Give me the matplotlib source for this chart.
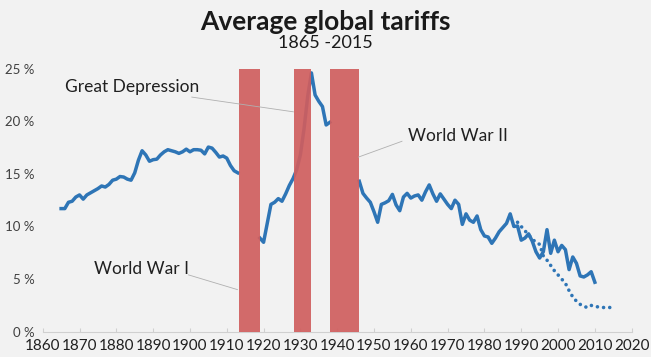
import matplotlib
matplotlib.use('Agg')
import matplotlib.pyplot as plt
import numpy as np

# yearly average tariff (%), gaps during the world wars
years = list(range(1865, 2011))
tariff = [
    11.7, 11.7, 12.3, 12.4, 12.8, 13.0, 12.6, 13.0, 13.2, 13.4,      # 1865-1874
    13.6, 13.85, 13.75, 14.0, 14.4, 14.5, 14.75, 14.7, 14.5, 14.4,   # 1875-1884
    15.1, 16.3, 17.2, 16.8, 16.2, 16.35, 16.4, 16.8, 17.1, 17.3,     # 1885-1894
    17.2, 17.1, 16.95, 17.1, 17.35, 17.1, 17.3, 17.3, 17.25, 16.9,   # 1895-1904
    17.55, 17.45, 17.05, 16.6, 16.7, 16.5, 15.8, 15.3, 15.1, None,   # 1905-1914
    None, None, None, None, 8.9, 8.5, 10.3, 12.1, 12.3, 12.65,       # 1915-1924
    12.4, 13.1, 13.9, 14.55, 15.4, 16.8, 19.3, 22.4, 24.6, 22.5,     # 1925-1934
    21.9, 21.4, 19.65, 19.9, None, None, None, None, None, None,     # 1935-1944
    None, 14.3, 13.15, 12.7, 12.3, 11.4, 10.4, 12.1, 12.25, 12.45,   # 1945-1954
    13.05, 12.05, 11.5, 12.8, 13.15, 12.7, 12.9, 13.0, 12.5, 13.3,   # 1955-1964
    13.95, 13.1, 12.4, 13.1, 12.6, 12.1, 11.7, 12.5, 12.1, 10.2,     # 1965-1974
    11.2, 10.6, 10.4, 11.0, 9.7, 9.1, 9.0, 8.4, 8.9, 9.5,            # 1975-1984
    9.9, 10.3, 11.2, 10.0, 10.05, 8.7, 8.9, 9.3, 8.6, 7.6,           # 1985-1994
    7.0, 7.6, 9.7, 7.45, 8.7, 7.6, 8.2, 7.8, 5.9, 7.1,               # 1995-2004
    6.5, 5.3, 5.2, 5.4, 5.7, 4.7,                                    # 2005-2010
]

# second (dotted) series
dot_years = list(range(1989, 2016))
dot_tariff = [10.4, 10.0, 9.6, 9.2, 8.8, 8.5, 8.3, 7.2, 6.8, 6.3,
              5.8, 5.4, 5.0, 4.6, 3.9, 3.3, 2.9, 2.6, 2.4, 2.3,
              2.5, 2.4, 2.35, 2.3, 2.3, 2.3, 2.3]

# shaded periods (start, end)
periods = [(1913.2, 1918.9), (1928.3, 1932.9), (1938.1, 1945.9)]

tariff = np.array([np.nan if v is None else v for v in tariff], dtype=float)

plt.rcParams['font.family'] = ['Lato', 'DejaVu Sans']

bg = '#f2f2f2'
blue = '#2e75b6'
red = '#d05e5e'
grey = '#404040'

fig = plt.figure(figsize=(6.51, 3.57), dpi=100, facecolor=bg)
ax = fig.add_axes([0.0656, 0.0709, 0.9047, 0.7367], facecolor=bg)

ax.plot(years, tariff, color=blue, linewidth=2.5, zorder=2, solid_joinstyle='round')
ax.plot(dot_years, dot_tariff, color=blue, linewidth=2.6, zorder=2,
        linestyle=(0, (0.01, 1.7)), dash_capstyle='round')

for a, b in periods:
    ax.axvspan(a, b, ymin=0, ymax=1, color=red, alpha=0.92, lw=0, zorder=3)

ax.set_xlim(1860, 2020)
ax.set_ylim(0, 25)
ax.set_xticks(range(1860, 2021, 10))
ax.set_yticks(range(0, 26, 5))
ax.set_yticklabels([f'{v} %' for v in range(0, 26, 5)])

for s in ['top', 'right', 'left']:
    ax.spines[s].set_visible(False)
ax.spines['bottom'].set_color('#d0d0d0')
ax.tick_params(axis='x', direction='in', length=3, color='#d0d0d0',
               labelsize=11, labelcolor='#202020', pad=5)
ax.tick_params(axis='y', length=0, labelsize=9.5, labelcolor=grey, pad=6)

# annotations with thin leader lines
ann = dict(color='#b0b0b0', linewidth=0.6)
ax.plot([1900.5, 1928.1], [22.3, 20.9], zorder=4, **ann)
ax.text(1866.0, 23.3, 'Great Depression', fontsize=12.5, color='#202020', va='center')
ax.plot([1899.6, 1912.9], [5.4, 4.0], zorder=4, **ann)
ax.text(1873.8, 6.0, 'World War I', fontsize=12.5, color='#202020', va='center')
ax.plot([1957.6, 1945.8], [18.1, 16.6], zorder=4, **ann)
ax.text(1959.3, 18.6, 'World War II', fontsize=12.5, color='#202020', va='center')

fig.text(0.5, 0.939, 'Average global tariffs', ha='center', va='center',
         fontsize=19, fontweight='bold', color='#1a1a1a')
fig.text(0.5, 0.880, '1865 -2015', ha='center', va='center',
         fontsize=13, color='#1a1a1a')

fig.savefig('out.png', dpi=100, facecolor=bg)
